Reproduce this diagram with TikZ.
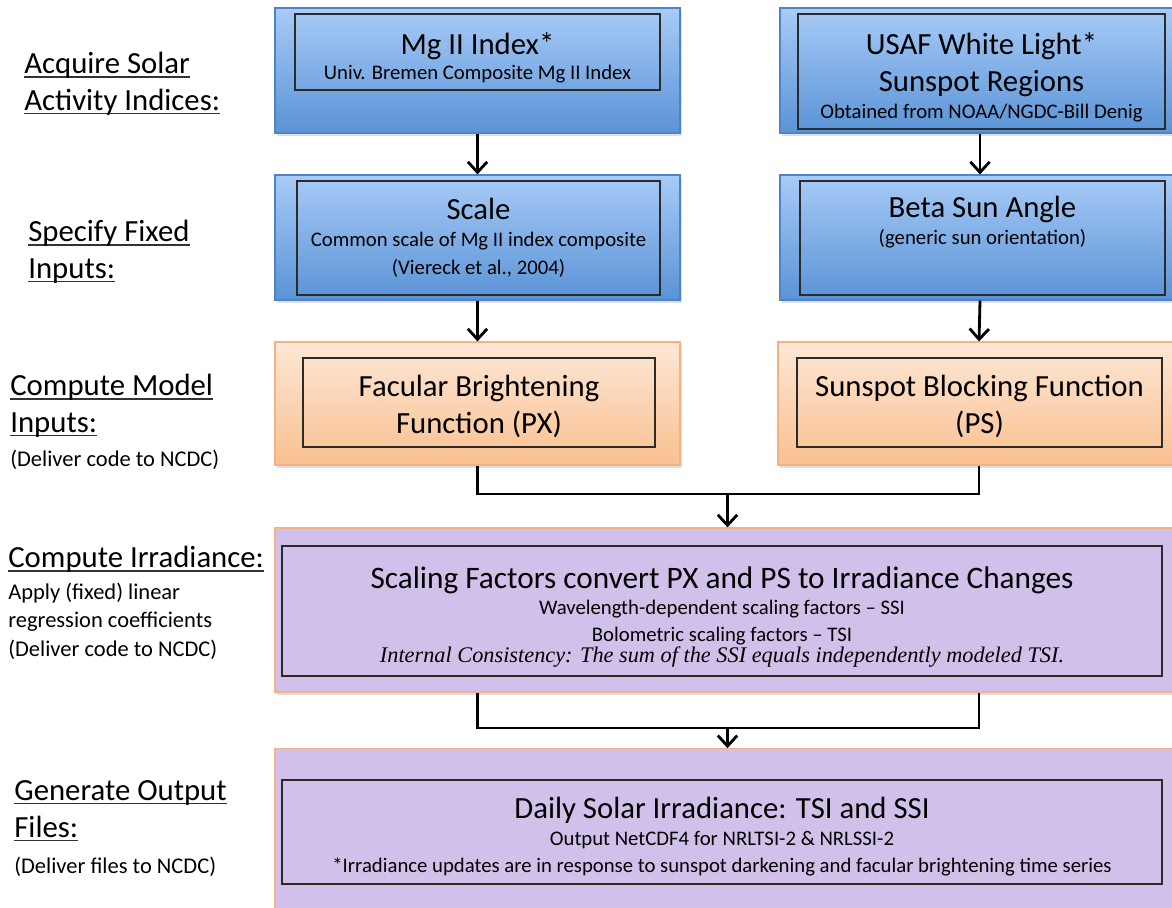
\documentclass[tikz,border=0pt]{standalone}
\usepackage{fontspec}
\setmainfont{Carlito}
\newfontfamily\timesfont{Liberation Serif}
\usetikzlibrary{arrows.meta,shadows,positioning}

\definecolor{bluetop}{HTML}{A8CBF7}
\definecolor{bluebot}{HTML}{5A93D6}
\definecolor{blueedge}{HTML}{4F84C4}
\definecolor{orangetop}{HTML}{FDE8D6}
\definecolor{orangebot}{HTML}{FAC090}
\definecolor{orangeedge}{HTML}{F4B183}
\definecolor{purplefill}{HTML}{D1C1EA}
\definecolor{inneredge}{HTML}{2B2B2B}

\newcommand{\titlesize}{\fontsize{17.5}{20.6}\selectfont}
\newcommand{\subsize}{\fontsize{11.8}{14}\selectfont}
\newcommand{\stepsize}{\fontsize{17.5}{21}\selectfont}
\newcommand{\notesize}{\fontsize{12.8}{15}\selectfont}
\newcommand{\steptitle}[1]{\setbox0\hbox{#1}\rlap{\color{black!80}\rule[-2.2pt]{\wd0}{0.8pt}}\box0}

\begin{document}
\begin{tikzpicture}[x=0.02cm,y=-0.02cm,
		outerbox/.style={inner sep=0pt, line width=0.7pt, drop shadow={opacity=0.25, shadow xshift=1pt, shadow yshift=-1.5pt}},
		bluebox/.style={outerbox, draw=blueedge, top color=bluetop, bottom color=bluebot, minimum height=2.5cm},
		orangebox/.style={outerbox, draw=orangeedge, top color=orangetop, bottom color=orangebot, minimum height=2.46cm},
		purplebox/.style={outerbox, draw=orangeedge, fill=purplefill},
		innerbox/.style={draw=inneredge, line width=0.8pt, inner sep=0pt},
		boxtext/.style={inner sep=0pt, align=center, font=\titlesize},
		steplabel/.style={anchor=north west, inner sep=0pt, align=left, font=\stepsize},
		conn/.style={line width=1.6pt, black},
		arrowtip/.style={-{Straight Barb[length=6pt,width=11pt]}}]
	\useasboundingbox (0,0) rectangle (1172,907);

	% row 1
	\node[bluebox, minimum width=8.1cm] (mg) at (477.5,70.5) {};
	\node[innerbox, minimum width=7.3cm, minimum height=1.52cm] (mgbox) at (477.5,52) {};
	\node[boxtext, yshift=-3.4pt] (mgtxt) at (mgbox) {Mg II Index*\\[-6.4pt]{\subsize Univ. Bremen Composite Mg II Index}};
	\node[bluebox, minimum width=8cm] (usaf) at (980,70.5) {};
	\node[innerbox, minimum width=7.34cm, minimum height=2.3cm] (usafbox) at (981.5,71.5) {};
	\node[boxtext, yshift=-3.4pt] (usaftxt) at (usafbox) {USAF White Light*\\Sunspot Regions\\[-5pt]{\subsize Obtained from NOAA/NGDC-Bill Denig}};

	% row 2
	\node[bluebox, minimum width=8.1cm] (scale) at (477.5,237.5) {};
	\node[innerbox, minimum width=7.26cm, minimum height=2.28cm] (scalebox) at (478.5,238) {};
	\node[boxtext] (scaletxt) at (scalebox) {Scale\\[-5.3pt]{\subsize Common scale of Mg II index composite}\\[-4.7pt]{\subsize (Viereck et al., 2004)}};
	\node[bluebox, minimum width=8cm] (beta) at (980,237.5) {};
	\node[innerbox, minimum width=7.3cm, minimum height=2.28cm] (betabox) at (982.5,238) {};
	\node[boxtext, yshift=9pt] (betatxt) at (betabox) {Beta Sun Angle\\[-5.3pt]{\subsize (generic sun orientation)}};

	% row 3
	\node[orangebox, minimum width=8.1cm] (facular) at (477.5,403.5) {};
	\node[innerbox, minimum width=7.04cm, minimum height=1.78cm] (facularbox) at (479,402.5) {};
	\node[boxtext, yshift=-2.3pt] (faculartxt) at (facularbox) {Facular Brightening\\Function (PX)};
	\node[orangebox, minimum width=8.04cm] (sunspot) at (979,403.5) {};
	\node[innerbox, minimum width=7.3cm, minimum height=1.78cm] (sunspotbox) at (979.5,402.5) {};
	\node[boxtext, yshift=-2.3pt] (sunspottxt) at (sunspotbox) {Sunspot Blocking Function\\(PS)};

	% row 4
	\node[purplebox, minimum width=18.1cm, minimum height=3.28cm] (irr) at (727.5,610) {};
	\node[innerbox, minimum width=17.6cm, minimum height=2.6cm] (irrbox) at (722,611) {};
	\node[boxtext, yshift=-3.4pt] (irrtxt) at (irrbox) {{\fontsize{17.8}{20.6}\selectfont Scaling Factors convert PX and PS to Irradiance Changes}\\[-5.9pt]{\subsize Wavelength-dependent scaling factors -- SSI}\\[-5.4pt]{\subsize Bolometric scaling factors -- TSI}\\[-8.8pt]{\fontsize{12.7}{14}\timesfont\itshape Internal Consistency: The sum of the SSI equals independently modeled TSI.}};

	% row 5
	\node[purplebox, minimum width=18.1cm, minimum height=3.55cm] (out) at (727.5,837.5) {};
	\node[innerbox, minimum width=17.6cm, minimum height=2.08cm] (outbox) at (722,832) {};
	\node[boxtext, yshift=-2.8pt] (outtxt) at (outbox) {Daily Solar Irradiance: TSI and SSI\\[-5.3pt]{\subsize Output NetCDF4 for NRLTSI-2 \& NRLSSI-2}\\[-5pt]{\subsize *Irradiance updates are in response to sunspot darkening and facular brightening time series}};

	% connectors
	\draw[conn, arrowtip] (mg.south) -- (scale.north);
	\draw[conn, arrowtip] (usaf.south) -- (beta.north);
	\draw[conn, arrowtip] (scale.south) -- (facular.north);
	\draw[conn, arrowtip] (beta.south) -- (sunspot.north);
	\coordinate (joinA) at (727.5,494);
	\draw[conn] (facular.south) |- (joinA) -| (sunspot.south);
	\draw[conn, arrowtip] (joinA) -- (irr.north);
	\coordinate (joinB) at (727.5,728);
	\draw[conn] (irr.south -| facular.south) |- (joinB) -| (irr.south -| sunspot.south);
	\draw[conn, arrowtip] (joinB) -- (out.north);

	% step labels
	\node[steplabel] (acquire) at (24,52) {\steptitle{Acquire Solar}\\\steptitle{Activity Indices:}};
	\node[steplabel] (specify) at (28,220) {\steptitle{Specify Fixed}\\\steptitle{Inputs:}};
	\node[steplabel] (model) at (10,374) {\steptitle{Compute Model}\\\steptitle{Inputs:}\\[-1.7pt]{\notesize (Deliver code to NCDC)}};
	\node[steplabel] (irradiance) at (8,546) {\steptitle{Compute Irradiance:}\\[-2.9pt]{\notesize Apply (fixed) linear}\\[-5.1pt]{\notesize regression coefficients}\\[-4.6pt]{\notesize (Deliver code to NCDC)}};
	\node[steplabel] (generate) at (14,780) {\steptitle{Generate Output}\\\steptitle{Files:}\\[-0.5pt]{\notesize (Deliver files to NCDC)}};
\end{tikzpicture}
\end{document}
